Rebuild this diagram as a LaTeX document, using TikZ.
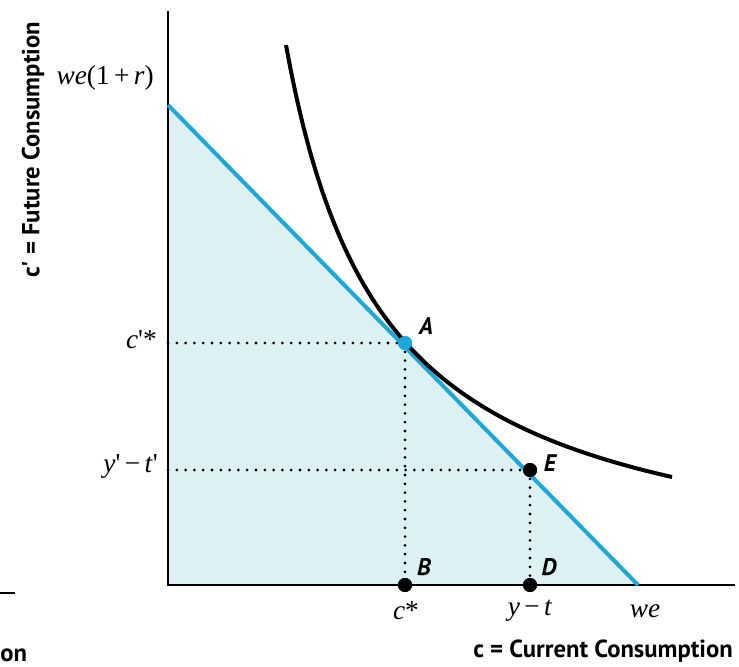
\documentclass[tikz,border=0pt]{standalone}
\usepackage{fontspec}
\setmainfont{Liberation Serif}
\newfontfamily\titlefont{PT Sans}
\definecolor{budgetblue}{HTML}{1DA8D8}
\definecolor{fillblue}{HTML}{DDF0F4}
\newcommand{\prm}{\textquotesingle}
\newcommand{\tsp}{\hspace{0.16em}}
\begin{document}
\begin{tikzpicture}[x=0.75pt,y=-0.75pt,
  axis/.style={line width=1.2pt,black},
  mathlbl/.style={font=\fontsize{20.5}{23}\selectfont, inner sep=0pt},
  ptlbl/.style={font=\titlefont\bfseries\itshape\fontsize{18}{20}\selectfont, inner sep=0pt},
  titlelbl/.style={font=\titlefont\bfseries\fontsize{18.5}{21}\selectfont, inner sep=0pt},
  guide/.style={line width=2.3pt, line cap=round, dash pattern=on 0pt off 6.6pt},
  dotpt/.style={circle, fill=black, minimum size=10.5pt, inner sep=0pt}]
\useasboundingbox (0,0) rectangle (739,667);
% coordinates
\coordinate (O) at (168,585);
\coordinate (ytop) at (168,11);
\coordinate (xend) at (735,585);
\coordinate (bl0) at (168,105);
\coordinate (bl1) at (638,585);
\coordinate (yA) at (168,343);
\coordinate (yE) at (168,470);
% shaded region
\fill[fillblue] (O) -- (bl0) -- (bl1) -- cycle;
% guides
\node[dotpt, fill=budgetblue] (A) at (405,343) {};
\node[dotpt] (E) at (530,470) {};
\node[dotpt] (B) at (405,585) {};
\node[dotpt] (D) at (530,585) {};
\draw[guide] (yA) -- (A.center);
\draw[guide] (A.center) -- (B.center);
\draw[guide] (yE) -- (E.center);
\draw[guide] (E.center) -- (D.center);
% axes
\draw[axis] (ytop) -- (O) -- (xend);
% budget line
\draw[budgetblue, line width=3pt] (bl0) -- (bl1);
% indifference curve
\draw[line width=3pt, black, line cap=butt] plot[domain=286:672, samples=120, smooth] (\x, {586.75 - 531.28/((\x-187.93)/100)});
% redraw dots on top
\node[dotpt, fill=budgetblue] at (A) {};
\node[dotpt] at (E) {};
\node[dotpt] at (B) {};
\node[dotpt] at (D) {};
% point labels
\node[ptlbl] (lA) at (426,326) {A};
\node[ptlbl] (lE) at (550,463) {E};
\node[ptlbl] (lB) at (424,567) {B};
\node[ptlbl] (lD) at (549,567) {D};
% axis value labels
\node[mathlbl, anchor=east] (lw1r) at (154,78) {\textit{we}(1\tsp+\tsp\textit{r})};
\node[mathlbl, anchor=east] (lcs) at (157,340) {\textit{c}\prm*};
\node[mathlbl, anchor=east] (lyt) at (158,466) {\textit{y}\prm\tsp\textminus\tsp\textit{t}\prm};
\node[mathlbl] (lc) at (406,611) {\textit{c}*};
\node[mathlbl] (lyt2) at (530,611) {\textit{y}\tsp\textminus\tsp\textit{t}};
\node[mathlbl] (lwe) at (645,611) {\textit{we}};
% titles
\node[titlelbl, anchor=east] (xt) at (733,651) {c = Current Consumption};
\node[titlelbl, rotate=90] (yt) at (33,150) {c\prm{} = Future Consumption};
% stray fragments from neighbouring figure
\coordinate (s0) at (0,593);
\coordinate (s1) at (15,593);
\draw[line width=1.5pt] (s0) -- (s1);
\node[titlelbl, anchor=west] (on) at (0,655) {on};
\end{tikzpicture}
\end{document}
